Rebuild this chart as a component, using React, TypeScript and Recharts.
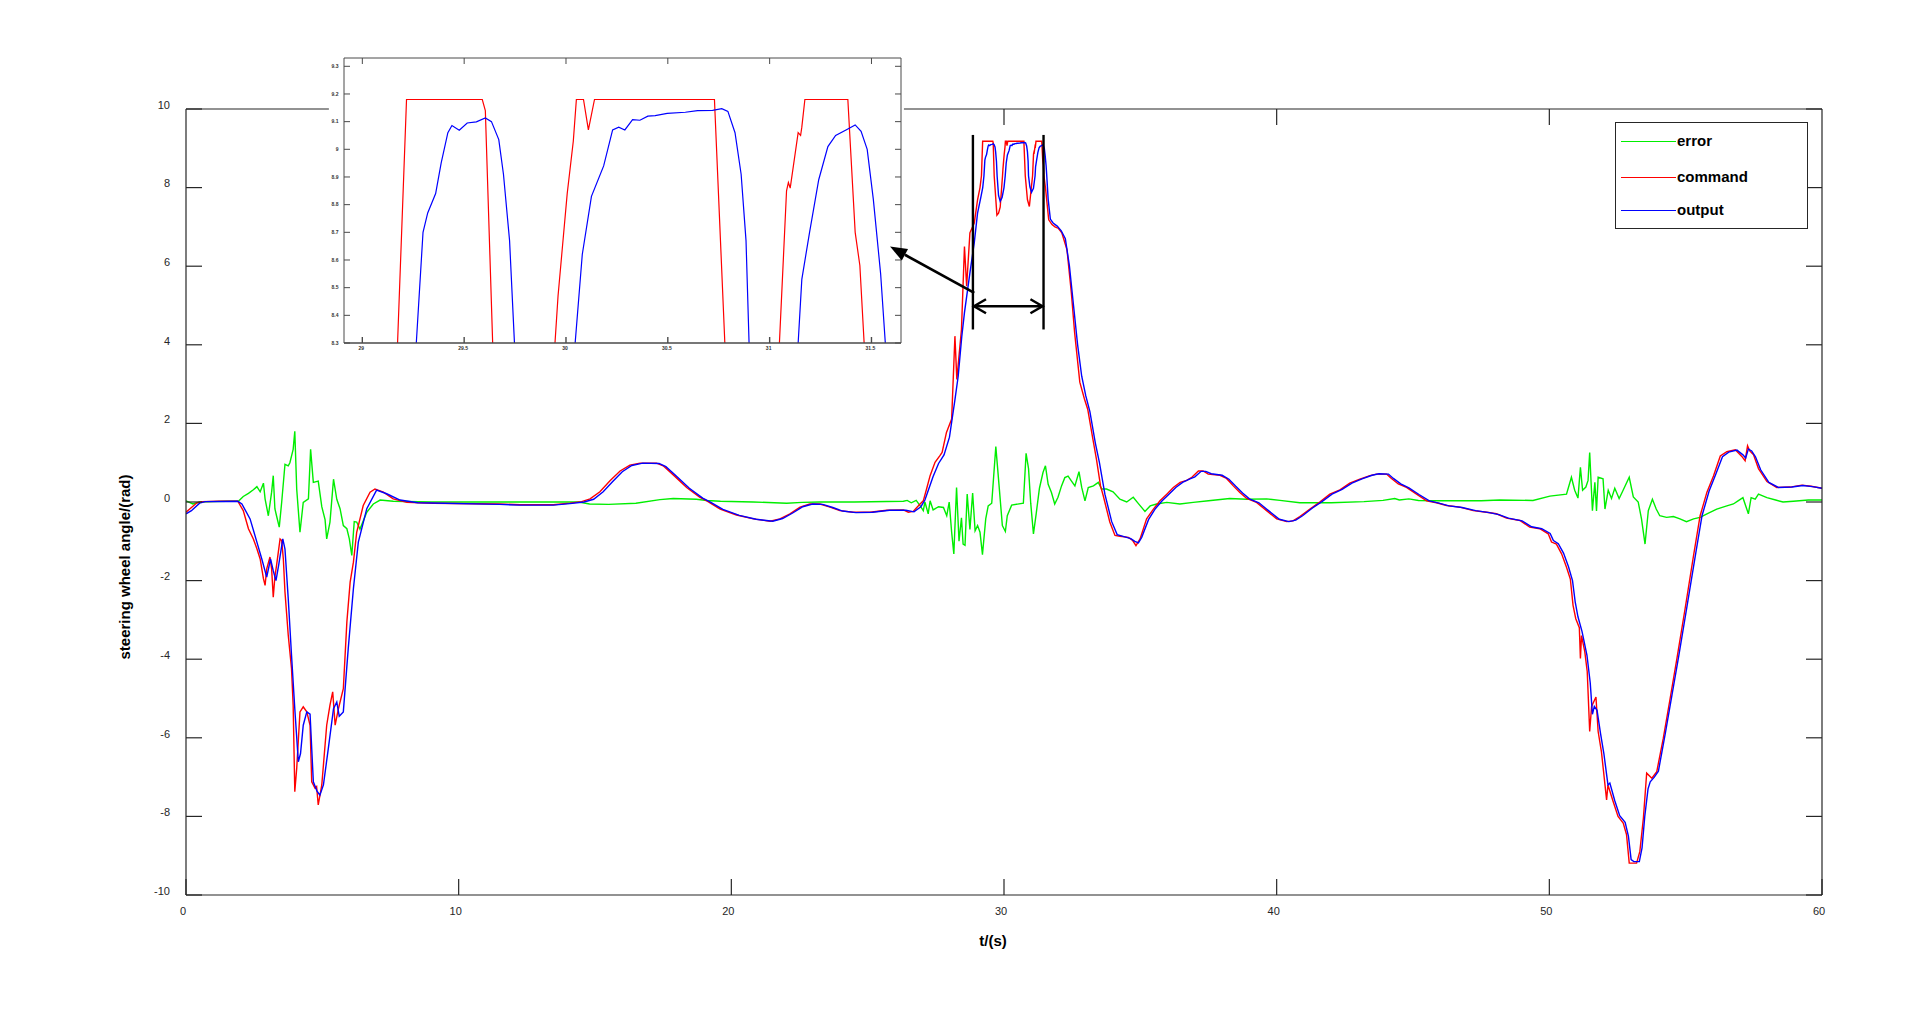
import React from "react";
import { LineChart, Line, XAxis, YAxis, ReferenceLine, Legend } from "recharts";

const FONT = '"Liberation Sans", Arial, Helvetica, sans-serif';
const AXIS = "#262626";
const INSET_AXIS = "#4a4a4a";

// axis ticks
const timeTicks = [0, 10, 20, 30, 40, 50, 60];
const topTimeTicks = [30, 40, 50];
const angleTicks = [-10, -8, -6, -4, -2, 0, 2, 4, 6, 8, 10];
const insetTimeTicks = [29, 29.5, 30, 30.5, 31, 31.5];
const insetAngleTicks = [8.3, 8.4, 8.5, 8.6, 8.7, 8.8, 8.9, 9, 9.1, 9.2, 9.3];

// [t (s), angle (rad)]
const command: [number, number][] = [
  [0, -0.26], [0.2, -0.14], [0.4, -0.02], [0.6, 0.01], [1.2, 0.02], [1.9, 0.02],
  [2.1, -0.22], [2.29, -0.68], [2.47, -0.94], [2.6, -1.19], [2.72, -1.45], [2.84, -1.95],
  [2.9, -2.12], [2.96, -1.7], [3.08, -1.4], [3.14, -1.7], [3.2, -2.42], [3.26, -1.9],
  [3.32, -1.62], [3.45, -0.94], [3.51, -0.98], [3.57, -1.45], [3.63, -2.29], [3.75, -3.39],
  [3.87, -4.24], [3.93, -5.17], [3.99, -7.37], [4.06, -6.78], [4.18, -5.34], [4.3, -5.21],
  [4.43, -5.34], [4.55, -5.68], [4.61, -7.12], [4.73, -7.28], [4.79, -7.24], [4.85, -7.71],
  [4.98, -7.2], [5.16, -5.68], [5.28, -5.17], [5.38, -4.83], [5.47, -5.68], [5.59, -5.26],
  [5.77, -4.75], [5.9, -3.05], [6.02, -2.04], [6.14, -1.53], [6.26, -0.77], [6.5, -0.09],
  [6.75, 0.25], [6.93, 0.33], [7.24, 0.25], [7.6, 0.08], [8.1, -0.01], [9.07, -0.03],
  [11.5, -0.05], [12.25, -0.07], [13.47, -0.07], [14.08, -0.03], [14.51, 0.01], [14.82, 0.08],
  [15.18, 0.26], [15.55, 0.54], [15.92, 0.79], [16.28, 0.94], [16.65, 0.99], [17.26, 0.99],
  [17.5, 0.92], [17.87, 0.69], [18.36, 0.37], [18.85, 0.12], [19.1, 0.03], [19.59, -0.18],
  [20.19, -0.33], [20.81, -0.43], [21.42, -0.49], [21.78, -0.43], [22.15, -0.3], [22.52, -0.13],
  [22.88, -0.05], [23.25, -0.05], [23.62, -0.13], [23.98, -0.22], [24.47, -0.26], [25.08, -0.26],
  [25.7, -0.21], [26.31, -0.2], [26.49, -0.26], [26.67, -0.24], [26.92, -0.05], [27.04, 0.03],
  [27.16, 0.33], [27.29, 0.67], [27.47, 1.01], [27.65, 1.18], [27.73, 1.26], [27.89, 1.77],
  [28.08, 2.11], [28.2, 4.22], [28.27, 3.12], [28.44, 4.39], [28.55, 6.5], [28.63, 5.49],
  [28.75, 6.85], [28.91, 7.1], [29.03, 7.69], [29.12, 8.0], [29.173, 8.3], [29.217, 9.18],
  [29.589, 9.18], [29.604, 9.14], [29.64, 8.3], [29.74, 7.3], [29.8, 7.35], [29.86, 7.5],
  [29.946, 8.3], [29.961, 8.47], [30.006, 8.84], [30.036, 9.03], [30.051, 9.18], [30.086, 9.18],
  [30.11, 9.07], [30.14, 9.18], [30.729, 9.18], [30.78, 8.3], [30.86, 7.69], [30.93, 7.52],
  [31.048, 8.3], [31.083, 8.85], [31.092, 8.88], [31.101, 8.86], [31.14, 9.06], [31.152, 9.05],
  [31.158, 9.08], [31.173, 9.18], [31.384, 9.18], [31.42, 8.7], [31.443, 8.58], [31.464, 8.3],
  [31.52, 8.0], [31.64, 7.18], [31.76, 7.06], [31.87, 7.0], [32.0, 6.96], [32.12, 6.85],
  [32.31, 6.42], [32.47, 5.32], [32.59, 4.31], [32.78, 3.05], [32.95, 2.62], [33.07, 2.36],
  [33.26, 1.6], [33.39, 1.09], [33.54, 0.41], [33.64, 0.16], [33.88, -0.51], [34.07, -0.85],
  [34.25, -0.87], [34.56, -0.9], [34.72, -0.98], [34.84, -1.11], [34.99, -0.94], [35.23, -0.43],
  [35.48, -0.18], [35.72, 0.03], [35.97, 0.2], [36.21, 0.37], [36.46, 0.5], [36.7, 0.55],
  [36.89, 0.63], [37.13, 0.79], [37.3, 0.79], [37.49, 0.71], [37.92, 0.68], [38.16, 0.6],
  [38.41, 0.41], [38.65, 0.24], [38.9, 0.09], [39.26, -0.01], [39.63, -0.22], [40.0, -0.43],
  [40.37, -0.5], [40.6, -0.48], [40.85, -0.37], [41.22, -0.18], [41.58, 0.0], [41.95, 0.2],
  [42.32, 0.31], [42.68, 0.48], [43.05, 0.58], [43.42, 0.67], [43.66, 0.71], [44.03, 0.71],
  [44.21, 0.6], [44.46, 0.46], [44.76, 0.37], [45.13, 0.2], [45.5, 0.03], [45.86, -0.02],
  [46.23, -0.09], [46.72, -0.13], [47.21, -0.22], [47.7, -0.26], [48.06, -0.3], [48.43, -0.41],
  [48.92, -0.47], [49.28, -0.64], [49.65, -0.68], [49.96, -0.81], [50.08, -1.02], [50.26, -1.07],
  [50.45, -1.32], [50.63, -1.66], [50.77, -1.96], [50.87, -2.63], [50.97, -2.97], [51.1, -3.2],
  [51.14, -3.98], [51.18, -3.4], [51.3, -3.81], [51.39, -4.32], [51.48, -5.84], [51.55, -5.2],
  [51.71, -4.96], [51.79, -5.84], [51.91, -6.35], [52.1, -7.58], [52.15, -7.2], [52.34, -7.62],
  [52.52, -8.0], [52.71, -8.17], [52.83, -8.46], [52.93, -9.19], [53.2, -9.19], [53.32, -8.89],
  [53.45, -8.04], [53.57, -6.9], [53.76, -7.03], [53.94, -6.86], [54.18, -6.01], [54.43, -5.0],
  [54.68, -3.98], [54.98, -2.71], [55.29, -1.36], [55.53, -0.35], [55.78, 0.25], [56.02, 0.66],
  [56.27, 1.17], [56.51, 1.28], [56.82, 1.33], [57.06, 1.16], [57.18, 1.05], [57.27, 1.43],
  [57.35, 1.3], [57.49, 1.2], [57.67, 0.85], [57.98, 0.52], [58.34, 0.37], [58.83, 0.38],
  [59.26, 0.43], [59.6, 0.4], [60, 0.35],
];

const output: [number, number][] = [
  [0, -0.3], [0.2, -0.22], [0.5, -0.03], [0.7, 0.01], [1.9, 0.02], [2.05, -0.05],
  [2.35, -0.43], [2.6, -1.02], [2.78, -1.45], [2.96, -1.91], [3.1, -1.45], [3.2, -1.75],
  [3.3, -2.0], [3.4, -1.6], [3.55, -0.94], [3.63, -1.2], [3.75, -2.46], [3.87, -3.9],
  [3.99, -5.26], [4.12, -6.61], [4.2, -6.4], [4.3, -5.68], [4.43, -5.34], [4.55, -5.4],
  [4.67, -7.12], [4.8, -7.35], [4.91, -7.46], [5.04, -7.2], [5.22, -6.27], [5.41, -5.26],
  [5.53, -5.09], [5.62, -5.45], [5.77, -5.34], [5.95, -3.73], [6.14, -2.2], [6.32, -1.02],
  [6.63, -0.17], [6.99, 0.3], [7.36, 0.21], [7.85, 0.05], [8.5, -0.02], [11.5, -0.06],
  [12.25, -0.08], [13.47, -0.08], [14.08, -0.04], [14.6, 0.0], [14.95, 0.07], [15.3, 0.26],
  [15.65, 0.52], [16.0, 0.77], [16.35, 0.93], [16.75, 0.99], [17.35, 0.98], [17.6, 0.9],
  [17.97, 0.67], [18.46, 0.35], [18.95, 0.1], [19.2, 0.01], [19.69, -0.19], [20.29, -0.34],
  [20.91, -0.44], [21.52, -0.49], [21.88, -0.42], [22.25, -0.28], [22.62, -0.12], [22.98, -0.05],
  [23.35, -0.06], [23.72, -0.14], [24.08, -0.23], [24.57, -0.27], [25.18, -0.26], [25.8, -0.21],
  [26.4, -0.21], [26.7, -0.25], [26.95, -0.12], [27.1, 0.05], [27.25, 0.35], [27.4, 0.65],
  [27.6, 0.98], [27.8, 1.2], [28.0, 1.65], [28.2, 2.6], [28.32, 3.2], [28.45, 4.2],
  [28.55, 4.82], [28.75, 5.83], [28.91, 6.6], [29.03, 7.35], [29.15, 7.75], [29.22, 8.0],
  [29.265, 8.3], [29.298, 8.7], [29.321, 8.77], [29.36, 8.84], [29.387, 8.95], [29.42, 9.06],
  [29.44, 9.086], [29.476, 9.069], [29.515, 9.095], [29.56, 9.099], [29.604, 9.113], [29.634, 9.1],
  [29.67, 9.035], [29.693, 8.91], [29.723, 8.67], [29.747, 8.3], [29.8, 7.8], [29.86, 7.65],
  [29.93, 7.75], [30.0, 8.0], [30.045, 8.3], [30.08, 8.62], [30.125, 8.83], [30.185, 8.94],
  [30.229, 9.07], [30.259, 9.08], [30.289, 9.07], [30.327, 9.107], [30.363, 9.105], [30.402, 9.12],
  [30.438, 9.122], [30.497, 9.13], [30.586, 9.134], [30.646, 9.14], [30.72, 9.141], [30.765, 9.147],
  [30.795, 9.137], [30.83, 9.06], [30.86, 8.91], [30.884, 8.67], [30.899, 8.3], [30.95, 8.02],
  [31.01, 7.88], [31.08, 7.98], [31.14, 8.3], [31.158, 8.53], [31.196, 8.7], [31.241, 8.89],
  [31.286, 9.01], [31.324, 9.05], [31.375, 9.07], [31.42, 9.088], [31.449, 9.065], [31.479, 9.0],
  [31.509, 8.82], [31.545, 8.55], [31.568, 8.3], [31.62, 7.7], [31.7, 7.2], [31.8, 7.1],
  [31.95, 7.02], [32.1, 6.9], [32.25, 6.7], [32.4, 6.0], [32.55, 5.0], [32.7, 4.0],
  [32.85, 3.2], [33.0, 2.7], [33.15, 2.3], [33.35, 1.5], [33.5, 1.0], [33.7, 0.2],
  [33.95, -0.5], [34.15, -0.83], [34.4, -0.88], [34.65, -0.93], [34.8, -1.0], [34.93, -1.04],
  [35.05, -0.9], [35.3, -0.45], [35.55, -0.17], [35.8, 0.03], [36.05, 0.2], [36.3, 0.37],
  [36.55, 0.5], [36.8, 0.58], [37.0, 0.64], [37.23, 0.78], [37.4, 0.78], [37.6, 0.72],
  [38.0, 0.68], [38.25, 0.58], [38.5, 0.4], [38.75, 0.23], [39.0, 0.08], [39.35, -0.02],
  [39.7, -0.22], [40.1, -0.44], [40.45, -0.5], [40.7, -0.46], [40.95, -0.35], [41.3, -0.16],
  [41.66, 0.01], [42.03, 0.2], [42.4, 0.32], [42.76, 0.48], [43.13, 0.59], [43.5, 0.68],
  [43.75, 0.72], [44.1, 0.71], [44.28, 0.6], [44.55, 0.46], [44.85, 0.36], [45.22, 0.19],
  [45.6, 0.03], [45.95, -0.03], [46.32, -0.1], [46.8, -0.14], [47.3, -0.22], [47.8, -0.27],
  [48.15, -0.32], [48.5, -0.41], [49.0, -0.48], [49.35, -0.63], [49.72, -0.68], [50.03, -0.8],
  [50.15, -0.98], [50.33, -1.06], [50.52, -1.3], [50.7, -1.64], [50.85, -2.0], [50.95, -2.55],
  [51.05, -2.92], [51.2, -3.3], [51.38, -3.9], [51.5, -4.6], [51.58, -5.4], [51.65, -5.2],
  [51.75, -5.3], [51.88, -5.9], [52.0, -6.4], [52.15, -7.2], [52.22, -7.15], [52.4, -7.6],
  [52.58, -7.98], [52.78, -8.15], [52.9, -8.5], [53.0, -9.1], [53.1, -9.15], [53.3, -9.15],
  [53.4, -8.8], [53.5, -8.0], [53.62, -7.3], [53.7, -7.12], [53.85, -7.0], [54.0, -6.85],
  [54.25, -5.9], [54.5, -4.9], [54.75, -3.9], [55.05, -2.65], [55.37, -1.3], [55.6, -0.35],
  [55.86, 0.28], [56.1, 0.7], [56.35, 1.15], [56.58, 1.27], [56.88, 1.32], [57.1, 1.2],
  [57.2, 1.12], [57.3, 1.35], [57.42, 1.3], [57.56, 1.15], [57.75, 0.82], [58.05, 0.5],
  [58.4, 0.37], [58.9, 0.38], [59.3, 0.42], [59.65, 0.39], [60, 0.35],
];

const error: [number, number][] = [
  [0, 0.03], [0.25, -0.05], [0.5, 0.0], [1.0, 0.01], [1.5, 0.02], [1.92, 0.02],
  [2.1, 0.14], [2.29, 0.22], [2.47, 0.31], [2.6, 0.39], [2.72, 0.26], [2.84, 0.48],
  [2.9, 0.08], [3.02, -0.35], [3.14, 0.25], [3.2, 0.67], [3.26, -0.17], [3.32, -0.35],
  [3.42, -0.64], [3.51, 0.0], [3.63, 0.96], [3.75, 0.92], [3.81, 1.0], [3.93, 1.34],
  [3.99, 1.8], [4.06, 0.33], [4.18, -0.77], [4.3, -0.01], [4.49, 0.08], [4.57, 1.34],
  [4.67, 0.5], [4.85, 0.53], [4.98, -0.12], [5.1, -0.45], [5.16, -0.94], [5.28, -0.51],
  [5.41, 0.58], [5.53, 0.07], [5.65, -0.17], [5.77, -0.6], [5.9, -0.68], [5.99, -0.94],
  [6.08, -1.36], [6.17, -0.5], [6.26, -0.51], [6.38, -0.69], [6.63, -0.26], [6.87, -0.05],
  [7.12, 0.05], [7.6, 0.02], [9.0, 0.0], [12.25, 0.0], [14.4, 0.0], [14.8, -0.05],
  [15.5, -0.06], [16.5, -0.03], [17.38, 0.06], [17.87, 0.09], [18.72, 0.07], [19.1, 0.04],
  [19.6, 0.02], [20.8, 0.0], [22.03, -0.03], [22.6, -0.01], [23.25, 0.0], [24.5, 0.0],
  [26.31, 0.02], [26.45, 0.04], [26.6, -0.02], [26.78, 0.04], [26.92, -0.09], [27.04, -0.22],
  [27.1, 0.0], [27.22, -0.3], [27.29, 0.03], [27.4, -0.2], [27.6, -0.12], [27.78, -0.14],
  [27.9, -0.35], [27.99, 0.0], [28.08, -0.77], [28.16, -1.32], [28.26, 0.37], [28.35, -1.0],
  [28.44, -0.4], [28.5, -1.07], [28.57, -1.1], [28.65, 0.2], [28.75, -0.7], [28.85, 0.23],
  [28.94, -0.73], [29.03, -0.6], [29.12, -0.77], [29.21, -1.34], [29.33, -0.43], [29.42, -0.1],
  [29.55, -0.03], [29.7, 1.41], [29.82, 0.41], [29.94, -0.6], [30.05, -0.75], [30.12, -0.35],
  [30.28, -0.08], [30.71, -0.03], [30.81, 1.24], [30.9, 0.85], [30.98, -0.03], [31.08, -0.81],
  [31.18, -0.3], [31.3, 0.35], [31.43, 0.75], [31.52, 0.92], [31.62, 0.45], [31.74, 0.24],
  [31.86, -0.05], [31.98, 0.12], [32.11, 0.41], [32.23, 0.62], [32.35, 0.66], [32.47, 0.54],
  [32.6, 0.41], [32.75, 0.77], [32.85, 0.37], [32.97, 0.03], [33.09, 0.37], [33.28, 0.41],
  [33.46, 0.5], [33.58, 0.33], [33.76, 0.33], [34.0, 0.26], [34.25, 0.07], [34.5, 0.0],
  [34.74, 0.12], [34.93, -0.04], [35.17, -0.24], [35.36, -0.1], [35.6, -0.05], [35.97, -0.01],
  [36.45, -0.05], [36.94, -0.01], [37.5, 0.03], [38.28, 0.09], [38.9, 0.07], [39.63, 0.08],
  [40.12, 0.04], [40.85, -0.02], [42.0, -0.02], [43.2, 0.01], [43.9, 0.04], [44.33, 0.09],
  [44.5, 0.05], [44.85, 0.08], [45.2, 0.04], [45.86, 0.03], [47.5, 0.03], [48.18, 0.05],
  [49.4, 0.04], [50.02, 0.15], [50.63, 0.2], [50.81, 0.63], [50.93, 0.3], [51.05, 0.1],
  [51.14, 0.88], [51.22, 0.3], [51.34, 0.38], [51.42, 0.55], [51.48, 1.26], [51.58, -0.22],
  [51.67, 0.5], [51.73, -0.23], [51.79, 0.63], [51.97, 0.59], [52.04, -0.18], [52.16, 0.3],
  [52.28, 0.09], [52.4, 0.35], [52.56, 0.09], [52.68, 0.26], [52.93, 0.63], [53.08, 0.13],
  [53.26, 0.0], [53.38, -0.43], [53.51, -1.07], [53.63, -0.22], [53.78, 0.07], [53.92, -0.18],
  [54.05, -0.35], [54.3, -0.39], [54.55, -0.37], [54.79, -0.43], [55.03, -0.5], [55.29, -0.43],
  [55.53, -0.39], [55.78, -0.3], [56.14, -0.18], [56.51, -0.1], [56.75, -0.05], [56.92, 0.03],
  [57.1, 0.11], [57.3, -0.3], [57.4, 0.11], [57.55, 0.07], [57.67, 0.2], [57.98, 0.11],
  [58.3, 0.05], [58.57, 0.0], [58.95, 0.02], [59.5, 0.05], [60, 0.05],
];

// annotation positions in data units
const bracketTimes = [28.86, 31.45];
const bracketRange = [4.39, 9.34];
const spanArrow = { from: 28.9, to: 31.41, at: 4.98 };
const pointer = { from: [28.91, 5.32], to: [25.82, 6.5] };
const topBorderGap = [5.24, 26.33];

const series = [
  { key: "error", name: "error", color: "#00ee00", pts: error },
  { key: "command", name: "command", color: "#ff0000", pts: command },
  { key: "output", name: "output", color: "#0000ff", pts: output },
];

const LEGEND_ROWS = [19, 55, 88];

const toRows = (pts: [number, number][]) => pts.map(([t, v]) => ({ t, v }));

const NoLabel = () => <g />;

const MainXTick = ({ x, y, payload }: any) => (
  <text x={x - 3} y={y} dy="0.35em" textAnchor="middle" fontSize={11} fill={AXIS} fontFamily={FONT}>
    {payload.value}
  </text>
);

const MainYTick = ({ x, y, payload }: any) => (
  <text x={x} y={y - 4} dy="0.35em" textAnchor="end" fontSize={11} fill={AXIS} fontFamily={FONT}>
    {payload.value}
  </text>
);

const InsetXTick = ({ x, y, payload }: any) => (
  <text x={x - 1} y={y} dy="0.35em" textAnchor="middle" fontSize={5} fontWeight="bold" fill="#333" fontFamily={FONT}>
    {payload.value}
  </text>
);

const InsetYTick = ({ x, y, payload }: any) => (
  <text x={x} y={y} dy="0.35em" textAnchor="end" fontSize={5} fontWeight="bold" fill="#333" fontFamily={FONT}>
    {payload.value}
  </text>
);

const DoubleArrow = (p: any) => {
  const { x1, y1, x2, y2 } = p;
  const h = 12;
  const w = 7;
  return (
    <g stroke="#000" strokeWidth={2.5} fill="none">
      <line x1={x1} y1={y1} x2={x2} y2={y2} />
      <polyline points={`${x1 + h},${y1 - w} ${x1},${y1} ${x1 + h},${y1 + w}`} />
      <polyline points={`${x2 - h},${y2 - w} ${x2},${y2} ${x2 - h},${y2 + w}`} />
    </g>
  );
};

const PointerArrow = (p: any) => {
  const { x1, y1, x2, y2 } = p;
  const len = Math.hypot(x2 - x1, y2 - y1) || 1;
  const ux = (x2 - x1) / len;
  const uy = (y2 - y1) / len;
  const L = 17;
  const W = 6.5;
  const bx = x2 - ux * L;
  const by = y2 - uy * L;
  return (
    <g>
      <line x1={x1} y1={y1} x2={bx} y2={by} stroke="#000" strokeWidth={2.6} />
      <polygon
        points={`${x2},${y2} ${bx - uy * W},${by + ux * W} ${bx + uy * W},${by - ux * W}`}
        fill="#000"
      />
    </g>
  );
};

const LegendBox = ({ payload }: any) => {
  const items = series.map((s) => (payload || []).find((e: any) => e.value === s.name) || { value: s.name, color: s.color });
  return (
    <div
      style={{
        width: 193,
        height: 107,
        boxSizing: "border-box",
        border: `1.5px solid ${AXIS}`,
        background: "#fff",
        position: "relative",
        fontFamily: FONT,
      }}
    >
      {items.map((e: any, i: number) => (
        <div
          key={e.value}
          style={{ position: "absolute", left: 0, top: LEGEND_ROWS[i] - 11, height: 20, display: "flex", alignItems: "center" }}
        >
          <div style={{ width: 55, marginLeft: 5, borderTop: `1.5px solid ${e.color}` }} />
          <span style={{ fontWeight: "bold", fontSize: 15, color: "#000", marginLeft: 1, lineHeight: "20px" }}>{e.value}</span>
        </div>
      ))}
    </div>
  );
};

export default function App() {
  const insetDomainX = [28.91, 31.645];
  const insetDomainY = [8.3, 9.33];

  return (
    <div
      style={{
        position: "absolute",
        left: 0,
        top: 0,
        width: 1915,
        height: 1025,
        background: "#fff",
        overflow: "hidden",
        fontFamily: FONT,
      }}
    >
      {/* zoomed inset */}
      <div style={{ position: "absolute", left: 300, top: 30 }}>
        <LineChart width={620} height={340} margin={{ top: 27, right: 18, bottom: 12, left: 14 }}>
          <XAxis
            xAxisId="ix"
            dataKey="t"
            type="number"
            domain={insetDomainX}
            allowDataOverflow
            ticks={insetTimeTicks}
            interval={0}
            height={15}
            tickSize={-6}
            tickMargin={11.5}
            stroke={INSET_AXIS}
            strokeWidth={1.4}
            tick={InsetXTick}
          />
          <XAxis
            xAxisId="itop"
            orientation="top"
            dataKey="t"
            type="number"
            domain={insetDomainX}
            allowDataOverflow
            ticks={insetTimeTicks}
            interval={0}
            height={1}
            tickSize={-6}
            stroke={INSET_AXIS}
            tick={NoLabel}
          />
          <YAxis
            yAxisId="iy"
            type="number"
            domain={insetDomainY}
            allowDataOverflow
            ticks={insetAngleTicks}
            interval={0}
            width={30}
            tickSize={-6}
            tickMargin={11.5}
            stroke={INSET_AXIS}
            tick={InsetYTick}
          />
          <YAxis
            yAxisId="iright"
            orientation="right"
            type="number"
            domain={insetDomainY}
            allowDataOverflow
            ticks={insetAngleTicks}
            interval={0}
            width={1}
            tickSize={-6}
            stroke={INSET_AXIS}
            tick={NoLabel}
          />
          {series
            .filter((s) => s.key !== "error")
            .map((s) => (
              <Line
                key={s.key}
                xAxisId="ix"
                yAxisId="iy"
                data={toRows(s.pts)}
                dataKey="v"
                type="linear"
                stroke={s.color}
                strokeWidth={1.2}
                dot={false}
                activeDot={false}
                isAnimationActive={false}
              />
            ))}
        </LineChart>
      </div>

      {/* main chart */}
      <div style={{ position: "absolute", left: 0, top: 0 }}>
        <LineChart width={1915} height={1025} margin={{ top: 108, right: 92, bottom: 100, left: 126 }}>
          <XAxis
            xAxisId="x"
            dataKey="t"
            type="number"
            domain={[0, 60]}
            allowDataOverflow
            ticks={timeTicks}
            interval={0}
            height={30}
            tickSize={-16}
            tickMargin={32}
            stroke={AXIS}
            strokeWidth={1.2}
            tick={MainXTick}
            label={{
              content: ({ viewBox }: any) => (
                <text
                  x={viewBox.x + viewBox.width / 2 - 11}
                  y={viewBox.y + 46}
                  dy="0.35em"
                  textAnchor="middle"
                  fontSize={15}
                  fontWeight="bold"
                  fill="#000"
                  fontFamily={FONT}
                >
                  t/(s)
                </text>
              ),
            }}
          />
          <XAxis
            xAxisId="top"
            orientation="top"
            dataKey="t"
            type="number"
            domain={[0, 60]}
            allowDataOverflow
            ticks={topTimeTicks}
            interval={0}
            height={1}
            tickSize={-16}
            axisLine={false}
            stroke={AXIS}
            strokeWidth={1.2}
            tick={NoLabel}
          />
          <YAxis
            yAxisId="y"
            type="number"
            domain={[-10, 10]}
            allowDataOverflow
            ticks={angleTicks}
            interval={0}
            width={60}
            tickSize={-16}
            tickMargin={32}
            stroke={AXIS}
            strokeWidth={1.2}
            tick={MainYTick}
            label={{
              content: ({ viewBox }: any) => {
                const cx = viewBox.x - 1;
                const cy = viewBox.y + 458;
                return (
                  <text
                    x={cx}
                    y={cy}
                    dy="0.35em"
                    textAnchor="middle"
                    transform={`rotate(-90, ${cx}, ${cy})`}
                    fontSize={15}
                    fontWeight="bold"
                    fill="#000"
                    fontFamily={FONT}
                  >
                    steering wheel angle/(rad)
                  </text>
                );
              },
            }}
          />
          <YAxis
            yAxisId="right"
            orientation="right"
            type="number"
            domain={[-10, 10]}
            allowDataOverflow
            ticks={angleTicks}
            interval={0}
            width={1}
            tickSize={-16}
            stroke={AXIS}
            strokeWidth={1.2}
            tick={NoLabel}
          />

          {/* top border, hidden behind the inset */}
          <ReferenceLine
            xAxisId="x"
            yAxisId="y"
            segment={[{ x: 0, y: 10 }, { x: topBorderGap[0], y: 10 }]}
            stroke={AXIS}
            strokeWidth={1.2}
            ifOverflow="visible"
          />
          <ReferenceLine
            xAxisId="x"
            yAxisId="y"
            segment={[{ x: topBorderGap[1], y: 10 }, { x: 60, y: 10 }]}
            stroke={AXIS}
            strokeWidth={1.2}
            ifOverflow="visible"
          />

          {series.map((s) => (
            <Line
              key={s.key}
              name={s.name}
              xAxisId="x"
              yAxisId="y"
              data={toRows(s.pts)}
              dataKey="v"
              type="linear"
              stroke={s.color}
              strokeWidth={1.4}
              dot={false}
              activeDot={false}
              isAnimationActive={false}
            />
          ))}

          {bracketTimes.map((t) => (
            <ReferenceLine
              key={t}
              xAxisId="x"
              yAxisId="y"
              segment={[{ x: t, y: bracketRange[0] }, { x: t, y: bracketRange[1] }]}
              stroke="#000"
              strokeWidth={2.4}
              ifOverflow="visible"
            />
          ))}
          <ReferenceLine
            xAxisId="x"
            yAxisId="y"
            segment={[{ x: spanArrow.from, y: spanArrow.at }, { x: spanArrow.to, y: spanArrow.at }]}
            shape={DoubleArrow}
            ifOverflow="visible"
          />
          <ReferenceLine
            xAxisId="x"
            yAxisId="y"
            segment={[
              { x: pointer.from[0], y: pointer.from[1] },
              { x: pointer.to[0], y: pointer.to[1] },
            ]}
            shape={PointerArrow}
            ifOverflow="visible"
          />

          <Legend
            layout="horizontal"
            verticalAlign="middle"
            align="center"
            content={LegendBox}
            wrapperStyle={{ position: "absolute", left: 1615, top: 122, width: 193, height: 107 }}
          />
        </LineChart>
      </div>
    </div>
  );
}
